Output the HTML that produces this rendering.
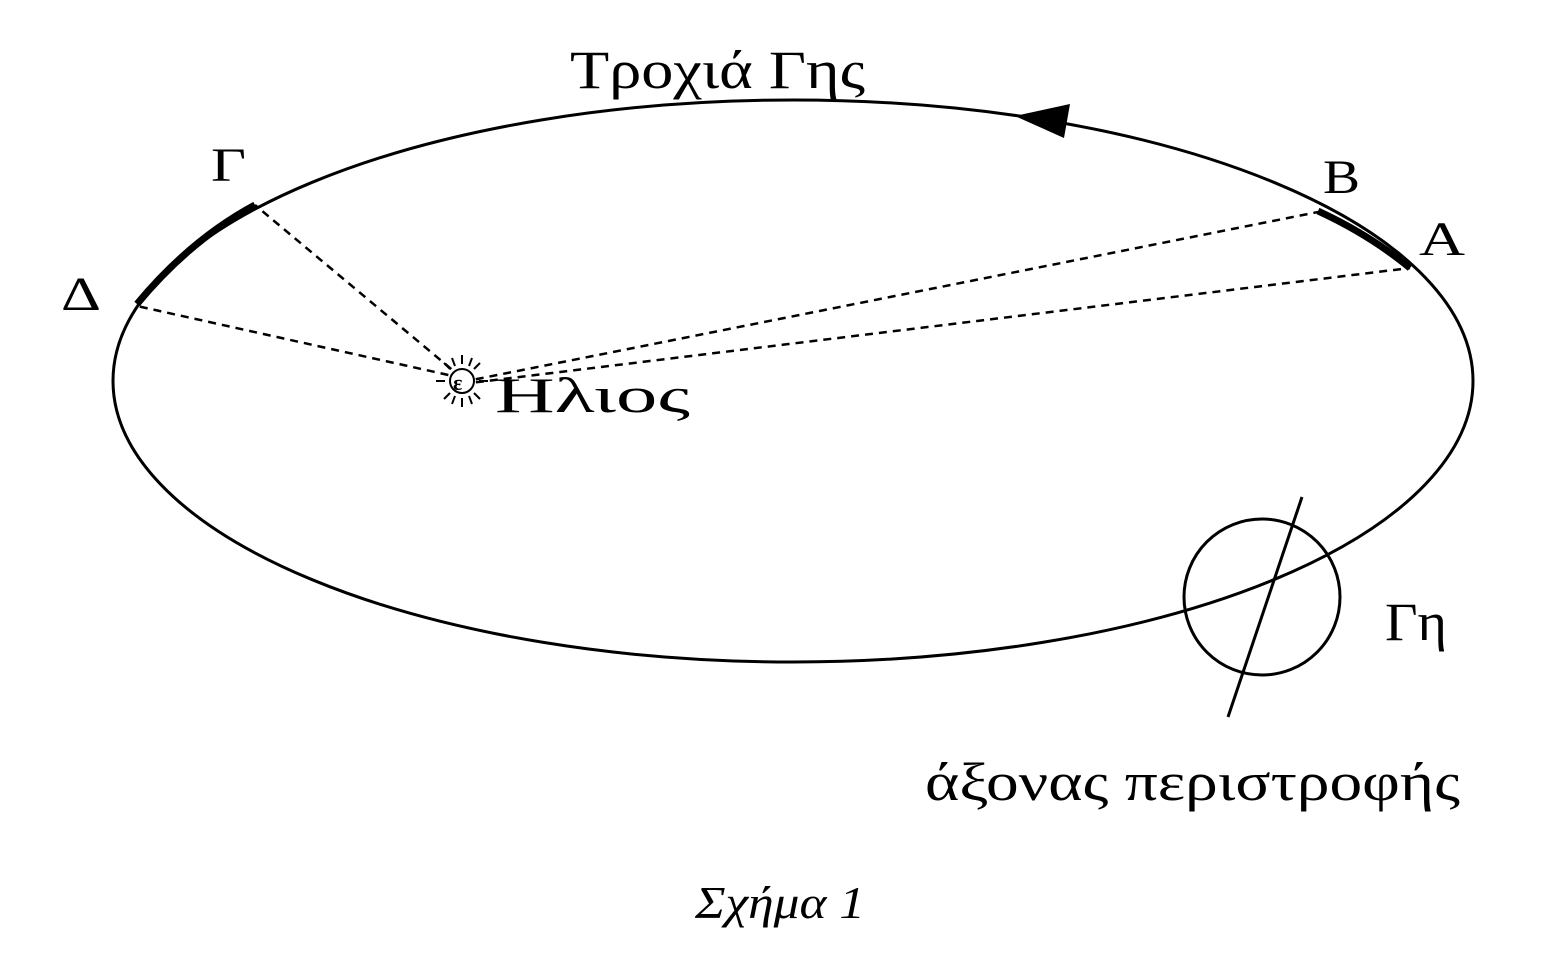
<!DOCTYPE html>
<html><head><meta charset="utf-8"><style>
html,body{margin:0;padding:0;background:#fff;}
svg{display:block;}
text{font-family:"Liberation Serif","DejaVu Serif",serif;fill:#000;}
</style></head><body>
<svg width="1550" height="972" viewBox="0 0 1550 972">
<ellipse cx="793" cy="381" rx="680" ry="281" fill="none" stroke="#000" stroke-width="3"/>
<path d="M137 304 Q190 240 255 205" fill="none" stroke="#000" stroke-width="7"/>
<path d="M1318 211 Q1370 235 1410 268" fill="none" stroke="#000" stroke-width="7"/>
<g stroke="#000" stroke-width="2.5" stroke-dasharray="8,6" fill="none">
<line x1="462" y1="378" x2="255" y2="205"/>
<line x1="462" y1="378" x2="137" y2="306"/>
<line x1="462" y1="382" x2="1318" y2="212"/>
<line x1="462" y1="384" x2="1410" y2="268"/>
</g>
<polygon points="1015,116 1070,104 1064,138" fill="#000"/>
<g stroke="#000" stroke-width="2">
<circle cx="462" cy="381" r="12" fill="#fff"/>
<line x1="462" y1="355" x2="462" y2="364"/><line x1="462" y1="398" x2="462" y2="407"/>
<line x1="436" y1="381" x2="445" y2="381"/><line x1="479" y1="381" x2="488" y2="381"/>
<line x1="444" y1="363" x2="450" y2="369"/><line x1="474" y1="393" x2="480" y2="399"/>
<line x1="480" y1="363" x2="474" y2="369"/><line x1="450" y1="393" x2="444" y2="399"/>
<line x1="452" y1="358" x2="455" y2="366"/><line x1="469" y1="396" x2="472" y2="404"/>
<line x1="472" y1="358" x2="469" y2="366"/><line x1="455" y1="396" x2="452" y2="404"/>
</g>
<text x="453" y="390" font-size="22" font-weight="bold">ε</text>
<circle cx="1262" cy="597" r="78" fill="none" stroke="#000" stroke-width="3"/>
<line x1="1302" y1="497" x2="1228" y2="717" stroke="#000" stroke-width="3"/>
<text x="570" y="88" font-size="54" textLength="295" lengthAdjust="spacingAndGlyphs">Τροχιά Γης</text>
<text x="211" y="181" font-size="48" textLength="35" lengthAdjust="spacingAndGlyphs">Γ</text>
<text x="1323" y="193" font-size="48" textLength="37" lengthAdjust="spacingAndGlyphs">Β</text>
<text x="1419" y="255" font-size="48" textLength="46" lengthAdjust="spacingAndGlyphs">Α</text>
<text x="61" y="310" font-size="48" textLength="40" lengthAdjust="spacingAndGlyphs">Δ</text>
<text x="495" y="412" font-size="50" textLength="195" lengthAdjust="spacingAndGlyphs">Ηλιος</text>
<text x="1385" y="640" font-size="54" textLength="62" lengthAdjust="spacingAndGlyphs">Γη</text>
<text x="925" y="800" font-size="54" textLength="535" lengthAdjust="spacingAndGlyphs">άξονας περιστροφής</text>
<text x="695" y="918" font-size="46" font-style="italic" textLength="170" lengthAdjust="spacingAndGlyphs">Σχήμα 1</text>
</svg>
</body></html>
